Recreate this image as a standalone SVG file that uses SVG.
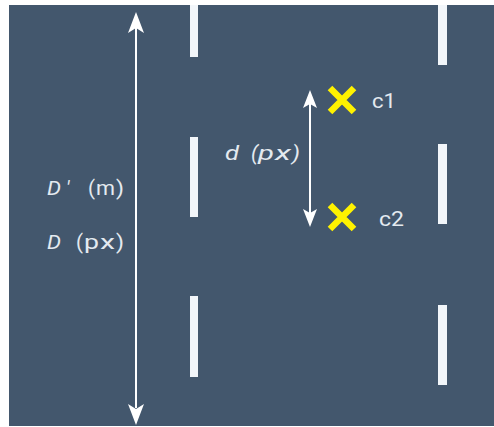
<svg xmlns="http://www.w3.org/2000/svg" width="494" height="427" viewBox="0 0 494 427">
<defs>
<style>
.lane{fill:#f2f6fa}
.lbl{font-family:Roboto,"Liberation Sans",sans-serif;font-size:20px;fill:#e4eaf0}
.it{font-style:italic}
.cross{stroke:#fff200;stroke-width:6.5;stroke-linecap:butt}
.arr{stroke:#ffffff;stroke-width:2;fill:none}
.head{fill:#ffffff}
</style>
</defs>
<rect x="0" y="0" width="494" height="427" fill="#ffffff"/>
<rect x="9" y="5" width="485" height="421" fill="#43576d"/>
<g id="lanes">
<rect class="lane" x="190" y="5" width="8" height="52"/>
<rect class="lane" x="190" y="137" width="8" height="80"/>
<rect class="lane" x="190" y="296" width="8" height="81"/>
<rect class="lane" x="438" y="5" width="9" height="60"/>
<rect class="lane" x="438" y="144" width="9" height="80"/>
<rect class="lane" x="438" y="305" width="9" height="80"/>
</g>
<g id="connectors">
<line class="arr" x1="136" y1="28" x2="136" y2="408"/>
<path class="head" d="M136,12 L144,33 L136,28 L128,33 Z"/>
<path class="head" d="M136,425 L144,404 L136,409 L128,404 Z"/>
<line class="arr" x1="310" y1="100" x2="310" y2="218"/>
<path class="head" d="M310,90 L317,108 L310,104 L303,108 Z"/>
<path class="head" d="M310,227 L317,209 L310,213 L303,209 Z"/>
</g>
<g id="c1">
<path class="cross" d="M330,88 L354,112 M354,88 L330,112"/>
<text class="lbl" x="372" y="108" textLength="24" lengthAdjust="spacingAndGlyphs">c1</text>
</g>
<g id="c2">
<path class="cross" d="M330,205 L354,229 M354,205 L330,229"/>
<text class="lbl" x="379" y="226" textLength="25" lengthAdjust="spacingAndGlyphs">c2</text>
</g>
<g id="label-d">
<text class="lbl it" x="225" y="160" textLength="14" lengthAdjust="spacingAndGlyphs">d</text>
<text class="lbl it" x="251" y="160" textLength="7" lengthAdjust="spacingAndGlyphs">(</text>
<text class="lbl it" x="258" y="160" textLength="16" lengthAdjust="spacingAndGlyphs">p</text>
<text class="lbl it" x="275" y="160" textLength="16" lengthAdjust="spacingAndGlyphs">x</text>
<text class="lbl it" x="292" y="160" textLength="8" lengthAdjust="spacingAndGlyphs">)</text>
</g>
<g id="label-Dm">
<text class="lbl it" x="47" y="195" textLength="14" lengthAdjust="spacingAndGlyphs">D</text>
<text class="lbl it" x="66" y="195">′</text>
<text class="lbl" x="88" y="195" textLength="7" lengthAdjust="spacingAndGlyphs">(</text>
<text class="lbl" x="96" y="195" textLength="19" lengthAdjust="spacingAndGlyphs">m</text>
<text class="lbl" x="116" y="195" textLength="8" lengthAdjust="spacingAndGlyphs">)</text>
</g>
<g id="label-Dpx">
<text class="lbl it" x="47" y="249" textLength="14" lengthAdjust="spacingAndGlyphs">D</text>
<text class="lbl" x="76" y="249" textLength="7" lengthAdjust="spacingAndGlyphs">(</text>
<text class="lbl" x="84" y="249" textLength="15" lengthAdjust="spacingAndGlyphs">p</text>
<text class="lbl" x="100" y="249" textLength="15" lengthAdjust="spacingAndGlyphs">x</text>
<text class="lbl" x="116" y="249" textLength="8" lengthAdjust="spacingAndGlyphs">)</text>
</g>
</svg>
